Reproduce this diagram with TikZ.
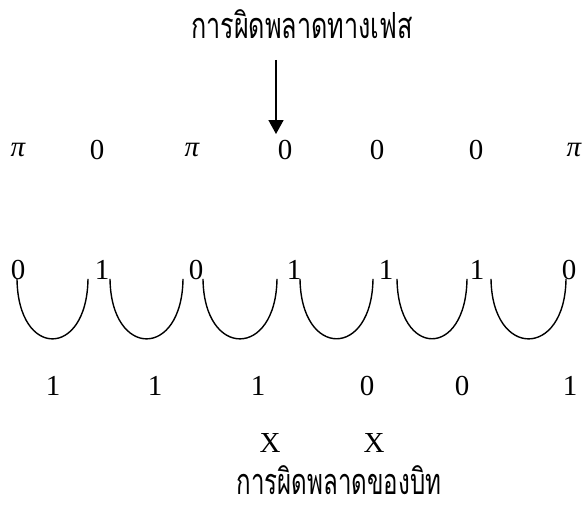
\documentclass[tikz,border=0pt]{standalone}
\usepackage{fontspec}
\setmainfont{Liberation Serif}
\newfontfamily\thaifont[Script=Thai]{Loma}
\usetikzlibrary{arrows.meta}
\begin{document}
\begin{tikzpicture}[x=1pt,y=-1pt,
  lbl/.style={font=\fontsize{29}{29}\selectfont, inner sep=0pt},
  thai/.style={font=\thaifont\fontsize{36}{36}\selectfont, inner sep=0pt},
  cup/.style={line width=1.4pt},
  pointer/.style={line width=1.6pt, -{Triangle[width=15pt,length=14pt]}}]
\useasboundingbox (0,0) rectangle (584,508);
% title
\node[thai] (title) at (302,24) {\scalebox{0.7}[1]{การผิดพลาดทางเฟส}};
% phase row
\node[lbl] (p1) at (18,150) {\itshape π};
\node[lbl] (p2) at (97,150) {0};
\node[lbl] (p3) at (192,150) {\itshape π};
\node[lbl] (p4) at (285,150) {0};
\node[lbl] (p5) at (377,150) {0};
\node[lbl] (p6) at (476,150) {0};
\node[lbl] (p7) at (574,150) {\itshape π};
% arrow
\coordinate (arrtop) at (276,60);
\draw[pointer, shorten >=6pt] (arrtop) -- (arrtop |- p4.north);
% bit row
\node[lbl] (d1) at (18,270) {0};
\node[lbl] (d2) at (102,270) {1};
\node[lbl] (d3) at (196,270) {0};
\node[lbl] (d4) at (294,270) {1};
\node[lbl] (d5) at (386,270) {1};
\node[lbl] (d6) at (477,270) {1};
\node[lbl] (d7) at (569,270) {0};
% cups
\draw[cup] ([xshift=-1pt,yshift=1pt]d1.south) .. controls +(1,80) and +(-1,80) .. ([xshift=-14pt,yshift=1pt]d2.south);
\draw[cup] ([xshift=8pt,yshift=1pt]d2.south) .. controls +(1,80) and +(-1,80) .. ([xshift=-13pt,yshift=1pt]d3.south);
\draw[cup] ([xshift=7pt,yshift=1pt]d3.south) .. controls +(1,80) and +(-1,80) .. ([xshift=-17pt,yshift=1pt]d4.south);
\draw[cup] ([xshift=6pt,yshift=1pt]d4.south) .. controls +(1,80) and +(-1,80) .. ([xshift=-13pt,yshift=1pt]d5.south);
\draw[cup] ([xshift=11pt,yshift=1pt]d5.south) .. controls +(1,80) and +(-1,80) .. ([xshift=-10pt,yshift=1pt]d6.south);
\draw[cup] ([xshift=14pt,yshift=1pt]d6.south) .. controls +(1,80) and +(-1,80) .. ([xshift=-3pt,yshift=1pt]d7.south);
% decoded row
\node[lbl] (b1) at (53,386) {1};
\node[lbl] (b2) at (155,386) {1};
\node[lbl] (b3) at (258,386) {1};
\node[lbl] (b4) at (367,386) {0};
\node[lbl] (b5) at (462,386) {0};
\node[lbl] (b6) at (570,386) {1};
% error marks
\node[lbl] (x1) at (270,443) {X};
\node[lbl] (x2) at (374,443) {X};
% bottom caption
\node[thai] (caption) at (339,480) {\scalebox{0.67}[1]{การผิดพลาดของบิท}};
\end{tikzpicture}
\end{document}
